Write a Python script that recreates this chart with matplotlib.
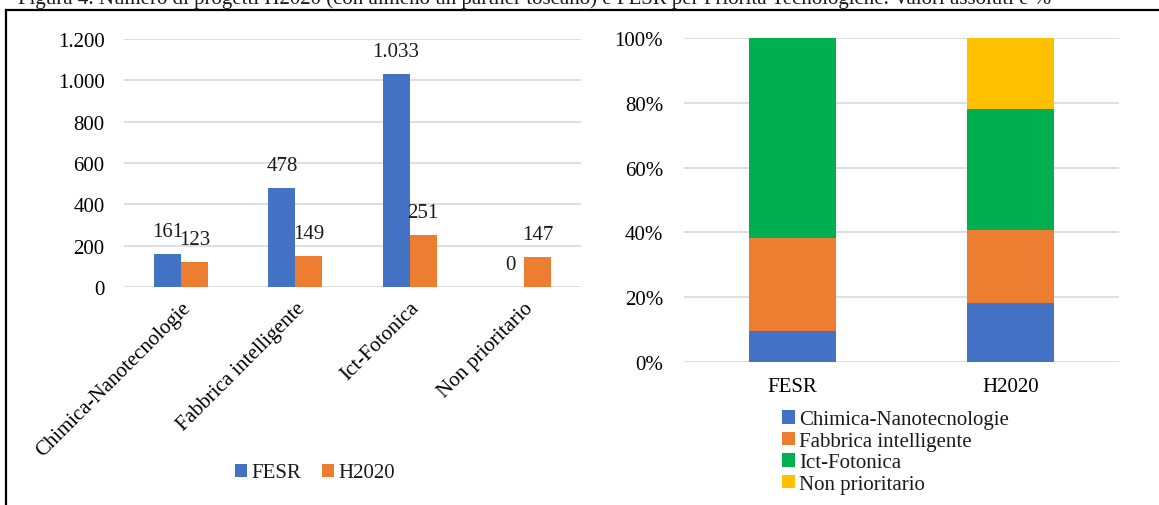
import numpy as np
import matplotlib
matplotlib.use("Agg")
import matplotlib.pyplot as plt
from matplotlib.lines import Line2D
from matplotlib.ticker import FuncFormatter, PercentFormatter

plt.rcParams['font.family'] = ['Liberation Serif', 'DejaVu Serif']
plt.rcParams['text.color'] = '#1a1a1a'

# Progetti per priorità tecnologica
categorie = ['Chimica-Nanotecnologie', 'Fabbrica intelligente', 'Ict-Fotonica', 'Non prioritario']
fesr = [161, 478, 1033, 0]
h2020 = [123, 149, 251, 147]
programmi = ['FESR', 'H2020']

colori = ['#4472C4', '#ED7D31', '#00B050', '#FFC000']
griglia = '#D9D9D9'
FS = 15

W, H = 1159, 506
fig = plt.figure(figsize=(W / 100, H / 100), dpi=100)


def it_num(v, pos=None):
    return f'{int(v):,}'.replace(',', '.')


# --- valori assoluti ---
ax1 = fig.add_axes([124 / W, 1 - 288 / H, (581 - 124) / W, (288 - 40) / H])
x = np.arange(len(categorie))
bw = 0.237
b1 = ax1.bar(x - bw / 2, fesr, bw, color=colori[0], label='FESR', zorder=3)
b2 = ax1.bar(x + bw / 2, h2020, bw, color=colori[1], label='H2020', zorder=3)
for bars, vals in ((b1, fesr), (b2, h2020)):
    for r, v in zip(bars, vals):
        ax1.annotate(it_num(v), (r.get_x() + r.get_width() / 2, v),
                     xytext=(0, 16), textcoords='offset points',
                     ha='center', va='center', fontsize=FS)
ax1.set_xlim(-0.5, 3.5)
ax1.set_ylim(0, 1200)
ax1.set_yticks(np.arange(0, 1201, 200))
ax1.yaxis.set_major_formatter(FuncFormatter(it_num))
ax1.set_xticks(x)
ax1.set_xticklabels(categorie, rotation=45, ha='right', rotation_mode='anchor', fontsize=FS)
ax1.tick_params(axis='both', length=0, labelsize=FS)
ax1.tick_params(axis='y', pad=14)
ax1.tick_params(axis='x', pad=8)
ax1.grid(axis='y', color=griglia, lw=1.2, zorder=0)
for s in ax1.spines.values():
    s.set_visible(False)

fig.legend(handles=[b1, b2], loc='center', bbox_to_anchor=(315 / W, 1 - 474 / H),
           ncol=2, frameon=False, fontsize=FS, handlelength=0.6, handleheight=0.6,
           handletextpad=0.2, columnspacing=1.0)

# --- composizione percentuale ---
ax2 = fig.add_axes([684 / W, 1 - 363 / H, (1119 - 684) / W, (363 - 39) / H])
tot = np.array([sum(fesr), sum(h2020)], dtype=float)
quote = [np.array([f, h]) / tot * 100 for f, h in zip(fesr, h2020)]
base = np.zeros(2)
handles = []
for nome, q, c in zip(categorie, quote, colori):
    b = ax2.bar([0, 1], q, 0.4, bottom=base, color=c, label=nome, zorder=3)
    handles.append(b)
    base += q
ax2.set_xlim(-0.5, 1.5)
ax2.set_ylim(0, 100)
ax2.set_yticks(np.arange(0, 101, 20))
ax2.yaxis.set_major_formatter(PercentFormatter(decimals=0))
ax2.set_xticks([0, 1])
ax2.set_xticklabels(programmi)
ax2.tick_params(axis='both', length=0, labelsize=FS)
ax2.tick_params(axis='y', pad=15)
ax2.tick_params(axis='x', pad=11)
ax2.grid(axis='y', color=griglia, lw=1.2, zorder=0)
for s in ax2.spines.values():
    s.set_visible(False)

fig.legend(handles=handles, loc='upper left', bbox_to_anchor=(774 / W, 1 - 403 / H),
           ncol=1, frameon=False, fontsize=FS, handlelength=0.6, handleheight=0.6,
           handletextpad=0.2, labelspacing=0.12, borderaxespad=0)

# didascalia e cornice
fig.text(18 / W, 1 - 4 / H,
         'Figura 4. Numero di progetti H2020 (con almeno un partner toscano) e FESR '
         'per Priorità Tecnologiche. Valori assoluti e %',
         fontsize=FS, va='baseline', ha='left')
fig.add_artist(Line2D([6 / W, 1], [1 - 11 / H, 1 - 11 / H], color='black', lw=1.6,
                      transform=fig.transFigure))
fig.add_artist(Line2D([6 / W, 6 / W], [0, 1 - 11 / H], color='black', lw=1.6,
                      transform=fig.transFigure))

fig.savefig('out.png', dpi=100)
